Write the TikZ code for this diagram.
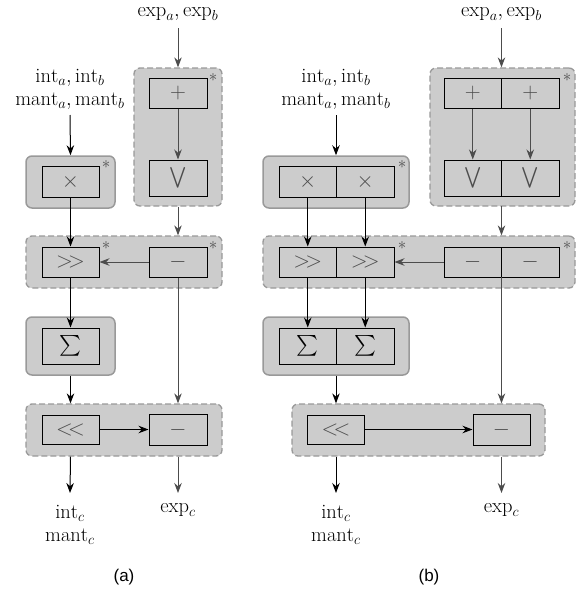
\RequirePackage{fix-cm}
\documentclass[tikz,border=0pt]{standalone}
\usepackage{amsmath}
\usepackage{fontspec}
\newfontfamily\capf{Liberation Sans}
\usetikzlibrary{arrows.meta}
\definecolor{grpfill}{gray}{0.8}
\definecolor{grpline}{gray}{0.6}
\definecolor{expline}{gray}{0.3}
\definecolor{symcol}{gray}{0.3}
\begin{document}
\begin{tikzpicture}[x=1pt,y=-1pt,
  grpd/.style={draw=grpline, fill=grpfill, dash pattern=on 6pt off 3pt, line width=1.3pt, rounded corners=6pt, inner sep=0pt},
  grps/.style={draw=grpline, fill=grpfill, line width=1.5pt, rounded corners=6pt, inner sep=0pt},
  opbox/.style={draw=black, fill=grpfill, line width=1pt, inner sep=0pt, text=symcol, font=\fontsize{22}{26}\selectfont},
  sumbox/.style={opbox, text=black, font=\fontsize{20}{24}\selectfont},
  lbl/.style={align=center, inner sep=0pt, font=\fontsize{20.5}{23}\selectfont},
  captxt/.style={inner sep=0pt, font=\capf\fontsize{17}{20}\selectfont},
  startxt/.style={inner sep=0pt, text=symcol, font=\fontsize{17}{20}\selectfont},
  arr/.style={-{Stealth[length=10pt,width=7.5pt]}, line width=1pt, black},
  earr/.style={-{Stealth[length=10pt,width=7.5pt]}, line width=1pt, expline}
]
\useasboundingbox (0,0) rectangle (577,592);

% ================= (a) =================
\node[grpd, minimum width=88pt, minimum height=138pt] (g1a) at (178,137) {};
\node[grps, minimum width=89pt, minimum height=52pt] (gxa) at (70.5,182) {};
\node[grpd, minimum width=196pt, minimum height=52pt] (g2a) at (124,262) {};
\node[grps, minimum width=89pt, minimum height=58pt] (gsa) at (70.5,346) {};
\node[grpd, minimum width=196pt, minimum height=52pt] (g3a) at (124,430) {};

\node[opbox, minimum width=58pt, minimum height=30pt] (plusa) at (178,93) {$+$};
\node[opbox, minimum width=58pt, minimum height=36pt] (veea) at (178,178) {$\bigvee$};
\node[opbox, minimum width=57pt, minimum height=31pt] (timesa) at (70.5,181.5) {$\times$};
\node[opbox, minimum width=57pt, minimum height=30pt] (shra) at (70.5,262) {$>\mkern-4mu>$};
\node[opbox, minimum width=58pt, minimum height=30pt] (suba) at (178,262) {$-$};
\node[sumbox, minimum width=57pt, minimum height=36pt] (suma) at (70.5,346) {$\sum$};
\node[opbox, minimum width=57pt, minimum height=29pt] (shla) at (70.5,429.5) {$<\mkern-4mu<$};
\node[opbox, minimum width=58pt, minimum height=31pt] (sub2a) at (178,429.5) {$-$};

\node[startxt] (s1a) at (213,78) {$\ast$};
\node[startxt] (s2a) at (106,165) {$\ast$};
\node[startxt] (s3a) at (106,246) {$\ast$};
\node[startxt] (s4a) at (213,246) {$\ast$};

\node[lbl] (expina) at (178,14) {$\mathrm{exp}_a, \mathrm{exp}_b$};
\node[lbl] (intina) at (70,89) {$\mathrm{int}_a, \mathrm{int}_b$\\$\mathrm{mant}_a, \mathrm{mant}_b$};
\node[lbl] (intouta) at (70,525) {$\mathrm{int}_c$\\$\mathrm{mant}_c$};
\node[lbl] (expouta) at (178,510) {$\mathrm{exp}_c$};
\node[captxt] (capa) at (124,577) {(a)};

\coordinate (ea0) at (178,28);
\coordinate (ia0) at (70,115);
\coordinate (oa1) at (70,493);
\coordinate (oa2) at (178,493);

\draw[earr] (ea0) -- (g1a.north);
\draw[earr] (plusa) -- (veea);
\draw[earr] (g1a.south) -- (suba |- g2a.north);
\draw[earr] (suba.west) -- (shra.east);
\draw[earr] (suba.south) -- (sub2a |- g3a.north);
\draw[earr] (sub2a |- g3a.south) -- (oa2);
\draw[arr] (ia0) -- (timesa |- gxa.north);
\draw[arr] (timesa) -- (shra);
\draw[arr] (shra) -- (suma);
\draw[arr] (gsa.south) -- (shla |- g3a.north);
\draw[arr] (shla) -- (sub2a);
\draw[arr] (shla |- g3a.south) -- (oa1);

% ================= (b) =================
\node[grpd, minimum width=145pt, minimum height=138pt] (g1b) at (502.5,137) {};
\node[grps, minimum width=146pt, minimum height=52pt] (gxb) at (336,182) {};
\node[grpd, minimum width=312pt, minimum height=52pt] (g2b) at (419,262) {};
\node[grps, minimum width=146pt, minimum height=58pt] (gsb) at (336,346) {};
\node[grpd, minimum width=253pt, minimum height=52pt] (g3b) at (418.5,430) {};

\node[opbox, minimum width=57.5pt, minimum height=30pt] (plusb1) at (472.75,93) {$+$};
\node[opbox, minimum width=57.5pt, minimum height=30pt] (plusb2) at (530.25,93) {$+$};
\node[opbox, minimum width=57.5pt, minimum height=36pt] (veeb1) at (472.75,178) {$\bigvee$};
\node[opbox, minimum width=57.5pt, minimum height=36pt] (veeb2) at (530.25,178) {$\bigvee$};
\node[opbox, minimum width=57.5pt, minimum height=31pt] (timesb1) at (307.75,181.5) {$\times$};
\node[opbox, minimum width=57.5pt, minimum height=31pt] (timesb2) at (365.25,181.5) {$\times$};
\node[opbox, minimum width=57.5pt, minimum height=30pt] (shrb1) at (307.75,262) {$>\mkern-4mu>$};
\node[opbox, minimum width=57.5pt, minimum height=30pt] (shrb2) at (365.25,262) {$>\mkern-4mu>$};
\node[opbox, minimum width=57.5pt, minimum height=30pt] (subb1) at (472.75,262) {$-$};
\node[opbox, minimum width=57.5pt, minimum height=30pt] (subb2) at (530.25,262) {$-$};
\node[sumbox, minimum width=57.5pt, minimum height=36pt] (sumb1) at (307.75,346) {$\sum$};
\node[sumbox, minimum width=57.5pt, minimum height=36pt] (sumb2) at (365.25,346) {$\sum$};
\node[opbox, minimum width=57pt, minimum height=29pt] (shlb) at (336,429.5) {$<\mkern-4mu<$};
\node[opbox, minimum width=57pt, minimum height=31pt] (sub2b) at (501.5,429.5) {$-$};

\node[startxt] (s1b) at (567,78) {$\ast$};
\node[startxt] (s2b) at (402,165) {$\ast$};
\node[startxt] (s3b) at (402,246) {$\ast$};
\node[startxt] (s4b) at (567,246) {$\ast$};

\node[lbl] (expinb) at (501.5,14) {$\mathrm{exp}_a, \mathrm{exp}_b$};
\node[lbl] (intinb) at (336,89) {$\mathrm{int}_a, \mathrm{int}_b$\\$\mathrm{mant}_a, \mathrm{mant}_b$};
\node[lbl] (intoutb) at (336,525) {$\mathrm{int}_c$\\$\mathrm{mant}_c$};
\node[lbl] (expoutb) at (501.5,510) {$\mathrm{exp}_c$};
\node[captxt] (capb) at (429,577) {(b)};

\coordinate (eb0) at (501.5,28);
\coordinate (ib0) at (336,115);
\coordinate (ob1) at (336,493);
\coordinate (ob2) at (501.5,493);
\coordinate (eb1) at (501.5,206);
\coordinate (eb2) at (501.5,277);

\draw[earr] (eb0) -- (g1b.north -| eb0);
\draw[earr] (plusb1) -- (veeb1);
\draw[earr] (plusb2) -- (veeb2);
\draw[earr] (eb1) -- (eb1 |- g2b.north);
\draw[earr] (subb1.west) -- (shrb2.east);
\draw[earr] (eb2) -- (sub2b.north |- g3b.north);
\draw[earr] (sub2b |- g3b.south) -- (ob2);
\draw[arr] (ib0) -- (ib0 |- gxb.north);
\draw[arr] (timesb1) -- (shrb1);
\draw[arr] (timesb2) -- (shrb2);
\draw[arr] (shrb1) -- (sumb1);
\draw[arr] (shrb2) -- (sumb2);
\draw[arr] (gsb.south) -- (shlb |- g3b.north);
\draw[arr] (shlb) -- (sub2b);
\draw[arr] (shlb |- g3b.south) -- (ob1);
\end{tikzpicture}
\end{document}
